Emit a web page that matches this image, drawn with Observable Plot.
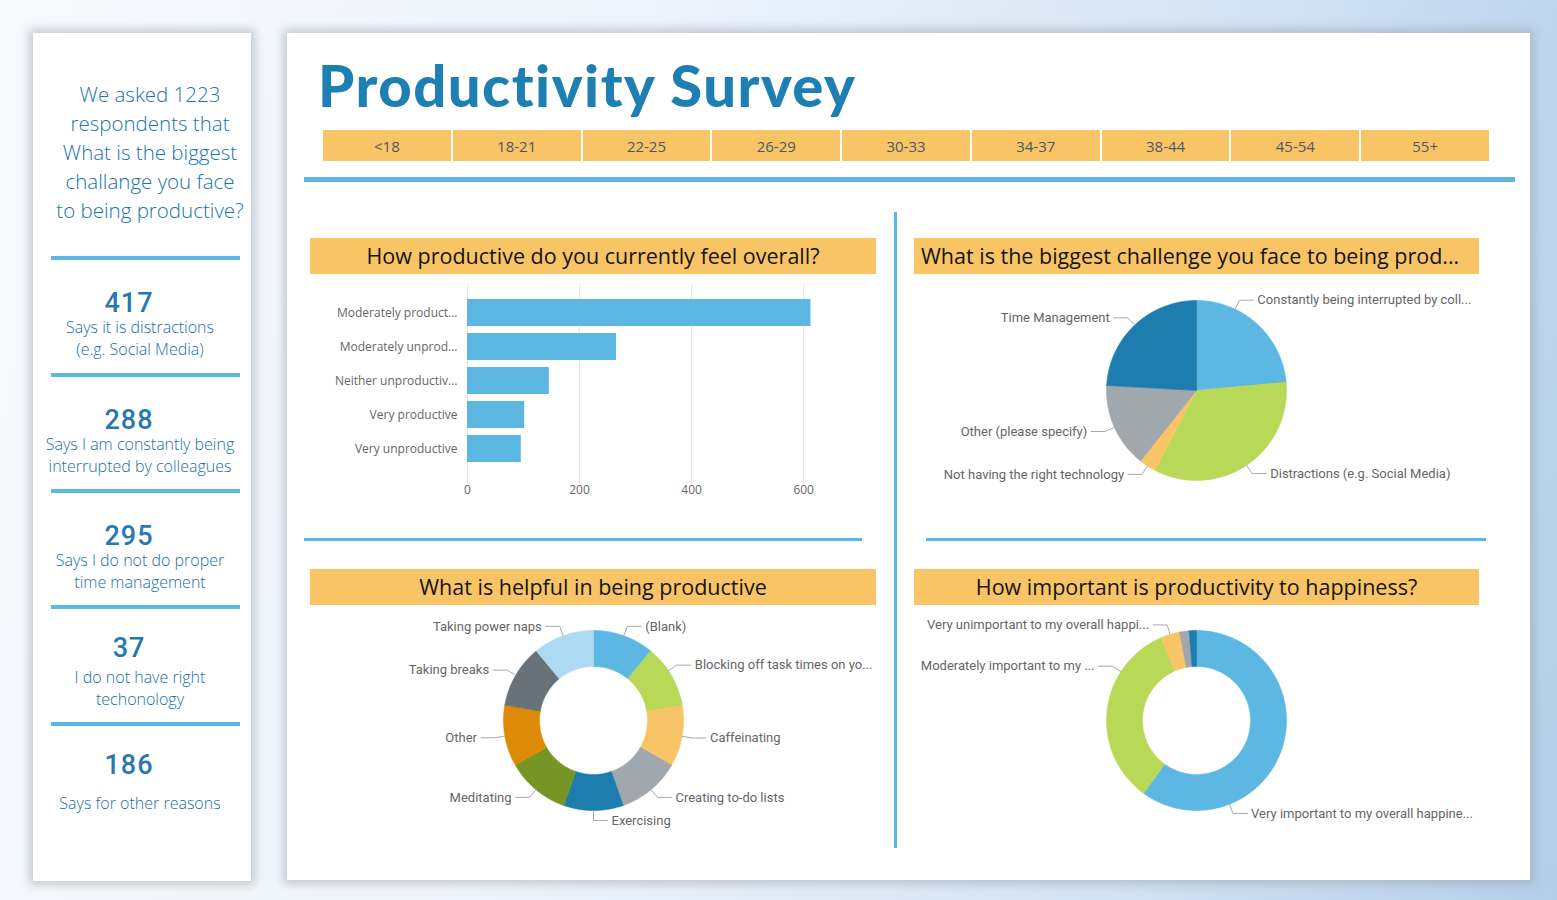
<!DOCTYPE html>
<html>
<head>
<meta charset="utf-8">
<title>Productivity Survey</title>
<script src="https://cdn.jsdelivr.net/npm/d3@7"></script>
<script src="https://cdn.jsdelivr.net/npm/@observablehq/plot@0.6"></script>
<style>
  html, body { margin: 0; padding: 0; }
  body {
    width: 1557px; height: 900px; overflow: hidden; position: relative;
    background: linear-gradient(100deg, #f8fafd 0%, #eef4fb 38%, #d5e4f4 72%, #b4cfea 100%);
    font-family: "Open Sans", Lato, sans-serif;
  }
  .card { position: absolute; background: #fff; box-shadow: 0 0 9px 4px rgba(150, 160, 172, 0.5); }
  .abs { position: absolute; }
  .rule { position: absolute; background: #5cb8e3; }
  .question {
    position: absolute; left: 41px; top: 80px; width: 218px; text-align: center; white-space: nowrap;
    font-size: 20.5px; line-height: 29px; font-weight: 300; color: #1874ad;
  }
  .stat-num {
    position: absolute; left: 38px; width: 182px; text-align: center;
    font-family: Roboto, sans-serif; font-weight: 500; font-size: 27px; line-height: 22px;
    letter-spacing: 1px; color: #2878b0;
  }
  .stat-desc {
    position: absolute; left: 40px; width: 200px; text-align: center; white-space: nowrap;
    font-size: 16px; line-height: 22px; font-weight: 300; color: #1570a8;
  }
  .title {
    position: absolute; font-family: "Open Sans", sans-serif; font-weight: 400;
    font-size: 21.5px; text-align: center; line-height: 36px;
    white-space: nowrap; overflow: hidden; color: #151515;
  }
  .slicer { position: absolute; left: 323px; top: 130px; width: 1166px; height: 31px; display: flex; gap: 2px; }
  .slicer div {
    flex: 1; background: #f9c465; text-align: center; line-height: 33px;
    font-size: 15px; color: #4a5866;
  }
  .chart { position: absolute; }
</style>
</head>
<body>
<div class="card" style="left:33px; top:33px; width:218px; height:848px;"></div>
<div class="card" style="left:287px; top:33px; width:1243px; height:847px;"></div>

<div class="question">We asked 1223<br>respondents that<br>What is the biggest<br>challange you face<br>to being productive?</div>
<div id="stats"></div>

<div class="abs" style="left:318px; top:50px; font-family:Lato, sans-serif; font-weight:900; font-size:58px; line-height:70px; letter-spacing:1.5px; color:#1e7fb3;">Productivity Survey</div>
<div class="slicer" id="slicer"></div>
<div class="rule" style="left:304px; top:177px; width:1211px; height:5px;"></div>
<div class="rule" style="left:894px; top:212px; width:3px; height:636px;"></div>
<div class="rule" style="left:304px; top:538px; width:558px; height:3px;"></div>
<div class="rule" style="left:926px; top:538px; width:560px; height:3px;"></div>

<div class="title" style="left:310px; top:238px; width:566px; height:36px; background:#f9c465;">How productive do you currently feel overall?</div>
<div class="title" style="left:914px; top:238px; width:565px; height:36px; background:#f9c465; text-align:left; padding-left:7px; box-sizing:border-box;">What is the biggest challenge you face to being prod...</div>
<div class="title" style="left:310px; top:569px; width:566px; height:36px; background:#f9c465;">What is helpful in being productive</div>
<div class="title" style="left:914px; top:569px; width:565px; height:36px; background:#f9c465;">How important is productivity to happiness?</div>

<div class="chart" id="bars" style="left:310px; top:285px;"></div>
<div class="chart" id="challenge" style="left:905px; top:280px;"></div>
<div class="chart" id="helpful" style="left:310px; top:610px;"></div>
<div class="chart" id="happiness" style="left:905px; top:610px;"></div>

<script>
// ---------- data ----------
const ageGroups = ["<18", "18-21", "22-25", "26-29", "30-33", "34-37", "38-44", "45-54", "55+"];

const statValues = [417, 288, 295, 37, 186];
const statTexts = [
  ["Says it is distractions", "(e.g. Social Media)"],
  ["Says I am constantly being", "interrupted by colleagues"],
  ["Says I do not do proper", "time management"],
  ["I do not have right", "techonology"],
  ["Says for other reasons"]
];

const productivityLabels = ["Moderately product...", "Moderately unprod...", "Neither unproductiv...", "Very productive", "Very unproductive"];
const productivityCounts = [613, 266, 146, 102, 96];
const productivityTicks = [0, 200, 400, 600];

const challengeCats = ["Constantly being interrupted by colleagues", "Distractions (e.g. Social Media)", "Not having the right technology", "Other (please specify)", "Time Management"];
const challengeLabels = ["Constantly being interrupted by coll...", "Distractions (e.g. Social Media)", "Not having the right technology", "Other (please specify)", "Time Management"];
const challengeCounts = [288, 417, 37, 186, 295];

const helpfulCats = ["(Blank)", "Blocking off task times on your calendar", "Caffeinating", "Creating to-do lists", "Exercising", "Meditating", "Other", "Taking breaks", "Taking power naps"];
const helpfulLabels = ["(Blank)", "Blocking off task times on yo...", "Caffeinating", "Creating to-do lists", "Exercising", "Meditating", "Other", "Taking breaks", "Taking power naps"];
const helpfulCounts = [134, 139, 134, 139, 131, 139, 135, 138, 134];

const happinessCats = ["Very important to my overall happiness", "Moderately important to my overall happiness", "Very unimportant to my overall happiness", "Moderately unimportant to my overall happiness", "Neither important nor unimportant"];
const happinessLabels = ["Very important to my overall happine...", "Moderately important to my ...", "Very unimportant to my overall happi...", "", ""];
const happinessCounts = [734, 410, 42, 21, 16];

// ---------- theme ----------
const C = {
  blue: "#5cb8e3", green: "#b8d857", yellow: "#f9c465", gray: "#a1a8ad", navy: "#1e7daf",
  olive: "#779524", orange: "#dd8a06", slate: "#677279", pale: "#acdaf2"
};
const themeOrder = [C.blue, C.green, C.yellow, C.gray, C.navy, C.olive, C.orange, C.slate, C.pale];

// ---------- left panel & age slicer ----------
const statNumTop = [292, 409, 525, 637, 754];
const statDescTop = [316, 433, 549, 666, 792];
const statsEl = document.getElementById("stats");
statValues.forEach((v, i) => {
  const n = document.createElement("div");
  n.className = "stat-num"; n.style.top = statNumTop[i] + "px"; n.textContent = v;
  statsEl.appendChild(n);
  const d = document.createElement("div");
  d.className = "stat-desc"; d.style.top = statDescTop[i] + "px";
  d.innerHTML = statTexts[i].join("<br>");
  statsEl.appendChild(d);
});
[256, 373, 489, 605, 722].forEach(t => {
  const r = document.createElement("div");
  r.className = "rule"; r.style.cssText = `left:51px; top:${t}px; width:189px; height:4px;`;
  statsEl.appendChild(r);
});
const slicer = document.getElementById("slicer");
ageGroups.forEach(a => { const d = document.createElement("div"); d.textContent = a; slicer.appendChild(d); });

// ---------- bar chart ----------
document.getElementById("bars").appendChild(Plot.plot({
  width: 566, height: 215,
  marginLeft: 157, marginRight: 28, marginTop: 6, marginBottom: 29,
  style: { background: "transparent", fontFamily: "'Open Sans', sans-serif", fontSize: "12px", color: "#666", overflow: "visible" },
  x: { domain: [0, 680], ticks: productivityTicks, tickSize: 0, tickPadding: 14, label: null },
  y: { domain: productivityLabels, padding: 0.2, tickSize: 0, tickPadding: 10, label: null },
  marks: [
    Plot.ruleX(productivityTicks, { stroke: "#e4e4e4", insetTop: -6, insetBottom: -13 }),
    Plot.barX(productivityLabels.map((label, i) => ({ label, count: productivityCounts[i] })),
      { x: "count", y: "label", fill: C.blue })
  ]
}));

// ---------- pie / donut helper ----------
const measureCtx = document.createElement("canvas").getContext("2d");
function textWidth(s, font) { measureCtx.font = font; return measureCtx.measureText(s).width; }

function ring({ cats, labels, counts, colors, inner, W, H, cx, cy, r, leftEdge, rightEdge }) {
  const total = d3.sum(counts);
  const TAU = 2 * Math.PI;
  let acc = 0;
  // angles run clockwise from twelve o'clock
  const slices = cats.map((c, i) => {
    const a0 = acc / total * TAU; acc += counts[i];
    return { c, a0, a1: acc / total * TAU, label: labels[i] };
  });

  const seg = Math.PI / 360;
  const shape = [];
  for (const s of slices) {
    const n = Math.max(2, Math.ceil((s.a1 - s.a0) / seg));
    const angles = d3.range(n + 1).map(k => s.a0 + (s.a1 - s.a0) * k / n);
    const start = shape.length;
    for (const a of angles) shape.push({ c: s.c, x: r * Math.sin(a), y: r * Math.cos(a) });
    if (inner > 0) for (const a of angles.slice().reverse()) shape.push({ c: s.c, x: inner * r * Math.sin(a), y: inner * r * Math.cos(a) });
    else shape.push({ c: s.c, x: 0, y: 0 });
    shape.push({ ...shape[start] });
  }

  // outside labels with elbow leaders; a label slides along its slice toward
  // the vertical axis until its text fits inside the visual
  const FONT_SIZE = 13;
  const font = `${FONT_SIZE}px Roboto`;
  const RADIAL = 10, RUN = 14, GAP = 4;
  const texts = [], leaders = [];
  slices.forEach((s, i) => {
    if (!s.label) return;
    const w = textWidth(s.label, font);
    const mid = (s.a0 + s.a1) / 2;
    const right = Math.sin(mid) > -1e-9;
    const dir = right ? 1 : -1;
    const toward = right ? (mid < Math.PI / 2 ? -1 : 1) : (mid < 1.5 * Math.PI ? -1 : 1);
    const lo = s.a0 + (s.a1 - s.a0) * 0.1, hi = s.a1 - (s.a1 - s.a0) * 0.1;
    const geom = a => {
      const ex = (r + RADIAL) * Math.sin(a), ey = (r + RADIAL) * Math.cos(a);
      return { a, ex, ey, hx: ex + dir * RUN };
    };
    const fits = g => right ? cx + g.hx + GAP + w <= rightEdge : cx + g.hx - GAP - w >= leftEdge;
    let a = mid, g = geom(a);
    while (!fits(g)) {
      const next = a + toward * seg;
      if (next < lo || next > hi) break;
      a = next; g = geom(a);
    }
    leaders.push({ id: i, x: r * Math.sin(g.a), y: r * Math.cos(g.a) },
                 { id: i, x: g.ex, y: g.ey },
                 { id: i, x: g.hx, y: g.ey });
    texts.push({ label: s.label, x: g.hx + dir * GAP, y: g.ey, right });
  });

  const textOpts = { x: "x", y: "y", text: "label", fill: "#666", fontSize: FONT_SIZE, fontFamily: "Roboto, sans-serif" };
  return Plot.plot({
    width: W, height: H, margin: 0,
    style: { background: "transparent", overflow: "visible" },
    x: { domain: [-cx, W - cx], axis: null },
    y: { domain: [cy - H, cy], axis: null },
    color: { domain: cats, range: colors },
    marks: [
      Plot.line(shape, { x: "x", y: "y", z: "c", fill: "c", stroke: "c", strokeWidth: 0.6, curve: "linear" }),
      Plot.line(leaders, { x: "x", y: "y", z: "id", stroke: "#a9a9a9", strokeWidth: 1 }),
      Plot.text(texts.filter(d => d.right), { ...textOpts, textAnchor: "start" }),
      Plot.text(texts.filter(d => !d.right), { ...textOpts, textAnchor: "end" })
    ]
  });
}

document.getElementById("challenge").appendChild(ring({
  cats: challengeCats, labels: challengeLabels, counts: challengeCounts,
  colors: [C.blue, C.green, C.yellow, C.gray, C.navy], inner: 0,
  W: 620, H: 225, cx: 291, cy: 110, r: 90, leftEdge: 15, rightEdge: 566
}));

document.getElementById("helpful").appendChild(ring({
  cats: helpfulCats, labels: helpfulLabels, counts: helpfulCounts,
  colors: themeOrder, inner: 0.6,
  W: 566, H: 235, cx: 283, cy: 110, r: 90, leftEdge: 6, rightEdge: 562
}));

document.getElementById("happiness").appendChild(ring({
  cats: happinessCats, labels: happinessLabels, counts: happinessCounts,
  colors: [C.blue, C.green, C.yellow, C.gray, C.navy], inner: 0.6,
  W: 620, H: 235, cx: 291, cy: 110, r: 90, leftEdge: 15, rightEdge: 568
}));
</script>
</body>
</html>
